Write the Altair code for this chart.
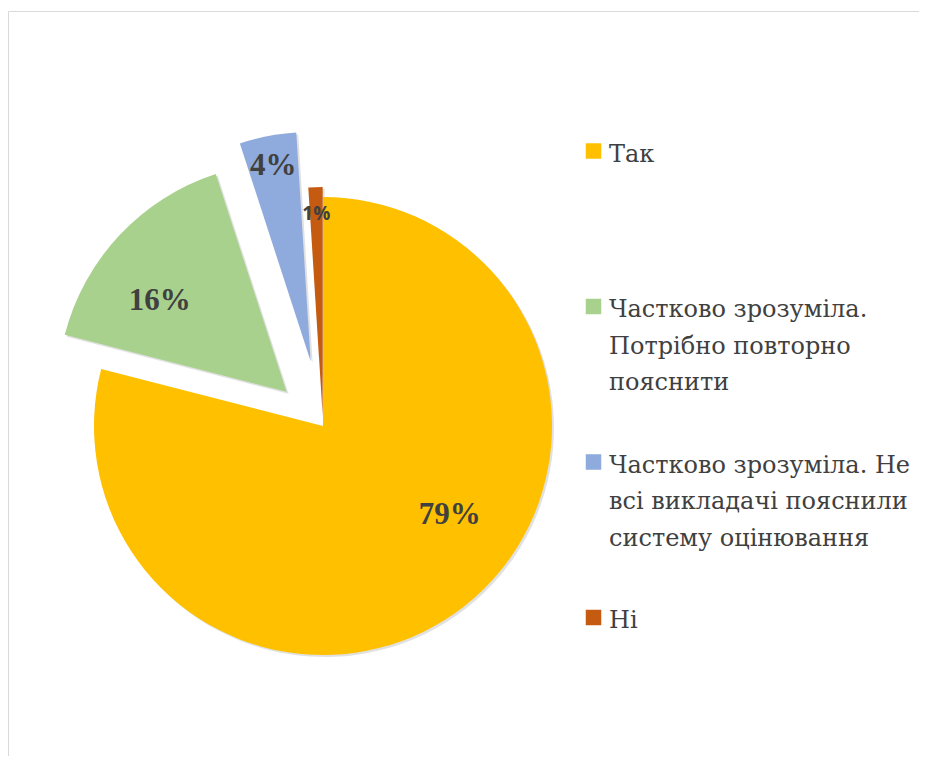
import altair as alt
import pandas as pd

categories = [
    "Так",
    "Частково зрозуміла. Потрібно повторно пояснити",
    "Частково зрозуміла. Не всі викладачі пояснили систему оцінювання",
    "Ні",
]
values = [79, 16, 4, 1]
legend_labels = [
    "Так",
    "Частково зрозуміла.\nПотрібно повторно\nпояснити",
    "Частково зрозуміла. Не\nвсі викладачі пояснили\nсистему оцінювання",
    "Ні",
]
colors = ["#FFC000", "#A9D18E", "#8FAADC", "#C55A11"]

# style: explode distance, label radius and label angle shift per slice
EXPLODE = [0, 50, 66, 10]
LABEL_R = [155, 156, 199, 202]
LABEL_DA = [-17, -7.5, 0, 0]
CX, CY, R = 315, 415, 229
TOTAL = sum(values)
SERIF = "Liberation Serif"

df = pd.DataFrame({"category": categories, "value": values, "legend": legend_labels})

color = alt.Color("category:N", scale=alt.Scale(domain=categories, range=colors), legend=None)

base = (
    alt.Chart(df)
    .transform_window(rn="row_number()")
    .transform_stack(stack="value", as_=["s0", "s1"], groupby=[], sort=[alt.SortField("rn")])
    .transform_calculate(mid=f"PI*(datum.s0+datum.s1)/{TOTAL}")
    .transform_calculate(
        ex=f"{EXPLODE}[datum.rn-1]",
        lr=f"{LABEL_R}[datum.rn-1]",
        la=f"datum.mid + {LABEL_DA}[datum.rn-1]*PI/180",
    )
    .transform_calculate(cx=f"{CX} + datum.ex*sin(datum.mid)", cy=f"{CY} - datum.ex*cos(datum.mid)")
    .transform_calculate(
        lx="datum.cx + datum.lr*sin(datum.la)",
        ly="datum.cy - datum.lr*cos(datum.la)",
        sx="datum.cx + 2",
        sy="datum.cy + 2",
        pct=f"format(datum.value/{TOTAL}, '.0%')",
    )
)

theta = alt.Theta("s0:Q", stack=None, scale=alt.Scale(domain=[0, TOTAL]))

shadow = base.mark_arc(outerRadius=R, color="#bdbdbd", opacity=0.45).encode(
    theta=theta, theta2="s1:Q",
    x=alt.X("sx:Q", scale=None, axis=None),
    y=alt.Y("sy:Q", scale=None, axis=None),
)

arcs = base.mark_arc(outerRadius=R).encode(
    theta=theta, theta2="s1:Q",
    x=alt.X("cx:Q", scale=None, axis=None),
    y=alt.Y("cy:Q", scale=None, axis=None),
    color=color,
)

labels_big = base.transform_filter("datum.rn <= 3").mark_text(
    font=SERIF, fontSize=31, fontWeight="bold", color="#404040",
    align="center", baseline="middle",
).encode(
    x=alt.X("lx:Q", scale=None, axis=None),
    y=alt.Y("ly:Q", scale=None, axis=None),
    text="pct:N",
)

labels_small = base.transform_filter("datum.rn == 4").mark_text(
    font="Open Sans", fontSize=19, fontWeight="bold", color="#404040",
    align="center", baseline="middle",
).encode(
    x=alt.X("lx:Q", scale=None, axis=None),
    y=alt.Y("ly:Q", scale=None, axis=None),
    text="pct:N",
)

leg_base = (
    alt.Chart(df)
    .transform_window(rn="row_number()")
    .transform_calculate(gy="140 + (datum.rn-1)*155.5")
    .transform_calculate(ty="datum.gy - 8.5")
)

leg_sq = leg_base.mark_square(size=240, opacity=1).encode(
    x=alt.value(585.5),
    y=alt.Y("gy:Q", scale=None, axis=None),
    color=color,
)

leg_txt = leg_base.mark_text(
    font="DejaVu Serif", fontSize=24, color="#404040",
    align="left", baseline="top", lineBreak="\n", lineHeight=36.5,
).encode(
    x=alt.value(601),
    y=alt.Y("ty:Q", scale=None, axis=None),
    text="legend:N",
)

chart = (
    alt.layer(shadow, arcs, labels_big, labels_small, leg_sq, leg_txt)
    .properties(
        width=911, height=745,
        autosize=alt.AutoSizeParams(type="none"),
        padding={"left": 0, "top": 3, "right": 0, "bottom": 0},
    )
    .configure_view(stroke="#d9d9d9", strokeWidth=1)
)

chart.save("out.html", embed_options={"renderer": "svg", "actions": False})
